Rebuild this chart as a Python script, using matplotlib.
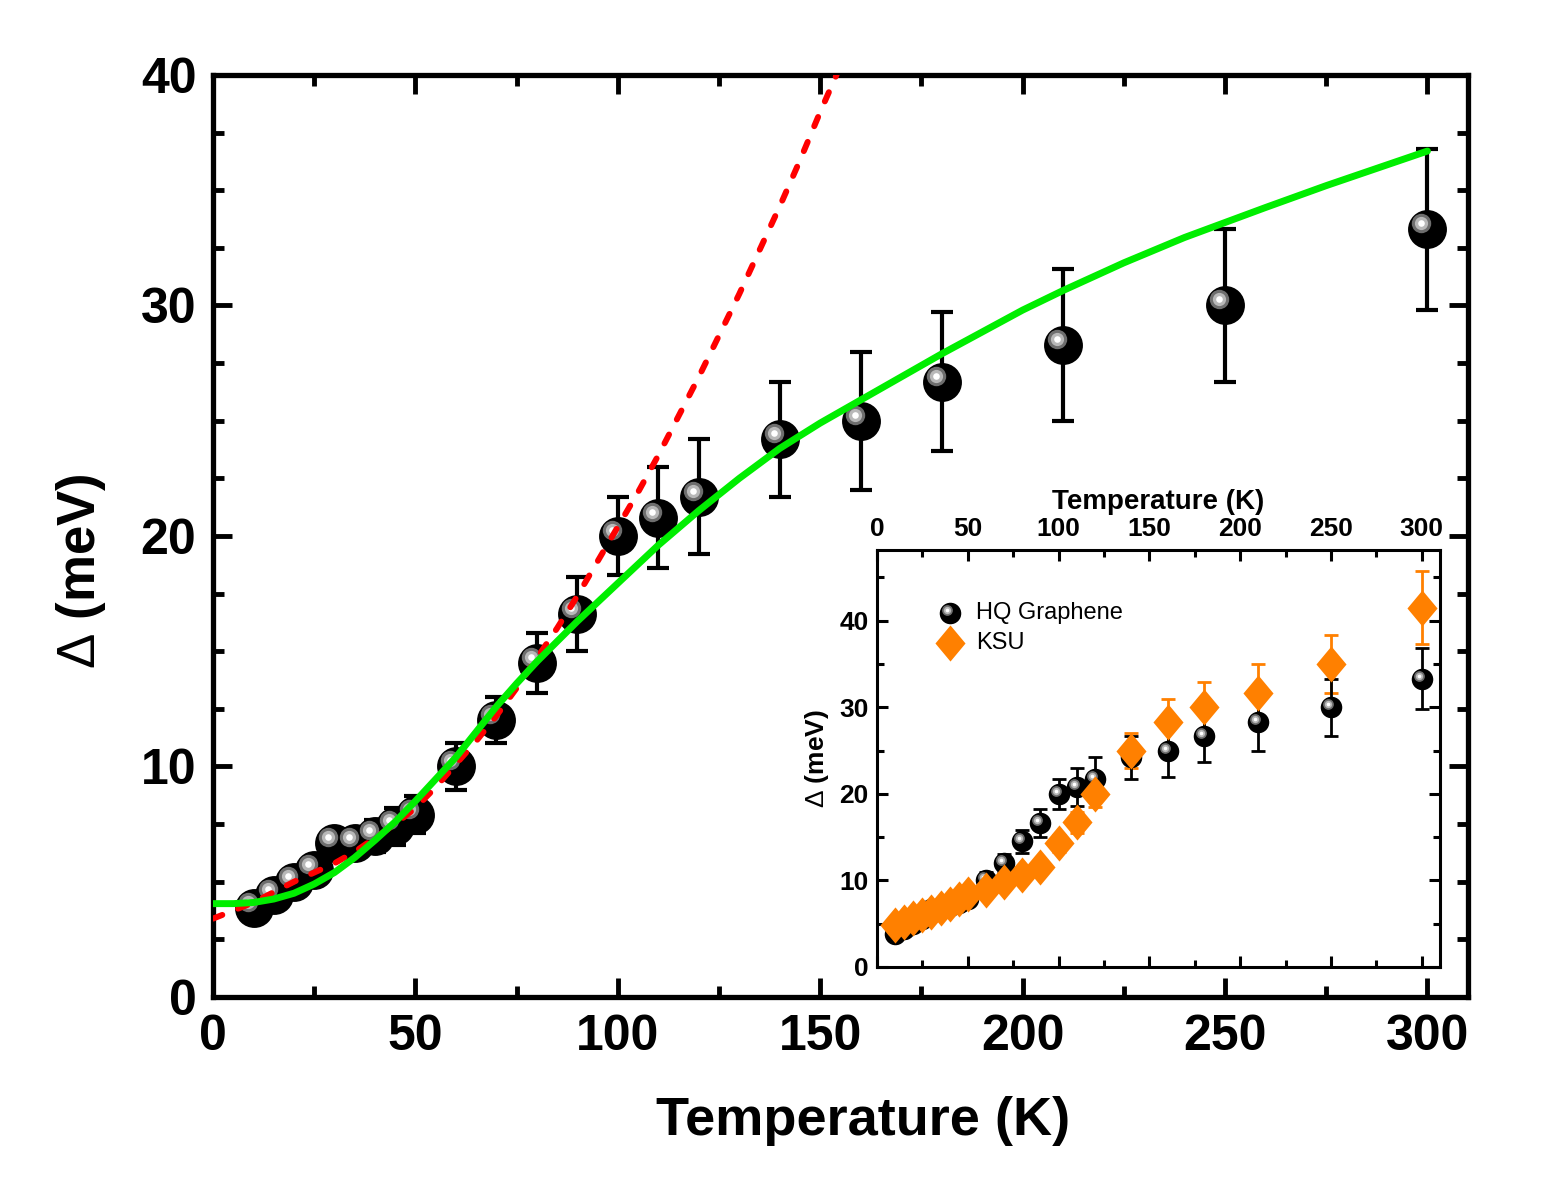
import numpy as np
import matplotlib
matplotlib.use("Agg")
import matplotlib.pyplot as plt
from matplotlib.transforms import offset_copy
from matplotlib.ticker import MultipleLocator

plt.rcParams['font.family'] = ['Liberation Sans', 'DejaVu Sans']
plt.rcParams['mathtext.fontset'] = 'custom'
plt.rcParams['mathtext.rm'] = 'Liberation Sans'

# HQ graphene data (main panel and inset)
T_hq = [10, 15, 20, 25, 30, 35, 40, 45, 50, 60, 70, 80, 90, 100, 110, 120, 140, 160, 180, 210, 250, 300]
D_hq = [3.86, 4.43, 5.0, 5.5, 6.7, 6.7, 7.0, 7.4, 7.9, 10.0, 12.0, 14.5, 16.6, 20.0, 20.8, 21.7,
        24.2, 25.0, 26.7, 28.3, 30.0, 33.3]
E_hq = [0.4, 0.4, 0.4, 0.5, 0.5, 0.5, 0.7, 0.8, 0.8, 1.0, 1.0, 1.3, 1.6, 1.7, 2.2, 2.5,
        2.5, 3.0, 3.0, 3.3, 3.3, 3.5]

# KSU data (inset)
T_ksu = [10, 15, 20, 25, 30, 35, 40, 45, 50, 60, 70, 80, 90, 100, 110, 120, 140, 160, 180, 210, 250, 300]
D_ksu = [4.8, 5.2, 5.6, 6.0, 6.4, 6.8, 7.3, 7.8, 8.4, 8.9, 9.8, 10.6, 11.6, 14.3, 16.7, 20.0,
         25.0, 28.3, 30.0, 31.7, 35.0, 41.5]
E_ksu = [0.4, 0.4, 0.4, 0.4, 0.4, 0.4, 0.5, 0.5, 0.5, 0.6, 0.6, 0.7, 0.8, 1.0, 1.2, 1.5,
         2.0, 2.6, 2.9, 3.3, 3.3, 4.2]

# red dashed curve
T_red = [0, 5, 10, 15, 20, 25, 30, 35, 40, 45, 50, 55, 60, 65, 70, 75, 80, 85, 90, 95, 100,
         105, 110, 115, 120, 125, 130, 135, 140, 145, 150, 155]
D_red = [3.4, 3.75, 4.1, 4.55, 5.0, 5.4, 5.8, 6.3, 6.9, 7.5, 8.2, 9.1, 10.1, 11.1, 12.2, 13.4,
         14.7, 16.0, 17.4, 18.9, 20.4, 21.9, 23.5, 25.2, 26.9, 28.7, 30.5, 32.4, 34.3, 36.3,
         38.4, 40.4]

# green curve
T_grn = [0, 5, 10, 15, 20, 25, 30, 35, 40, 45, 50, 55, 60, 65, 70, 75, 80, 90, 100, 110, 120,
         130, 140, 150, 160, 170, 180, 190, 200, 210, 225, 240, 250, 260, 275, 290, 300]
D_grn = [4.05, 4.05, 4.1, 4.25, 4.5, 4.9, 5.4, 6.05, 6.8, 7.6, 8.5, 9.45, 10.4, 11.5, 12.6,
         13.6, 14.55, 16.3, 17.95, 19.6, 21.1, 22.5, 23.8, 24.9, 25.9, 26.9, 27.9, 28.85,
         29.8, 30.65, 31.85, 32.95, 33.6, 34.25, 35.2, 36.1, 36.7]

fig = plt.figure(figsize=(15.55, 11.92), dpi=100)
ax = fig.add_axes([0.137, 0.1636, 0.807, 0.7735])


def spheres(a, x, y, ms, off, z, trans=None):
    if trans is None:
        trans = a.transData
    a.plot(x, y, 'o', ms=ms, color='black', mec='black', mew=0, transform=trans, zorder=z)
    tr = offset_copy(trans, fig=fig, x=-off, y=off, units='dots')
    a.plot(x, y, 'o', ms=ms * 0.5, color='#6e6e6e', mew=0, transform=tr, zorder=z)
    a.plot(x, y, 'o', ms=ms * 0.34, color='#b8b8b8', mew=0, transform=tr, zorder=z)
    a.plot(x, y, 'o', ms=ms * 0.17, color='white', mew=0, transform=tr, zorder=z)


ax.errorbar(T_hq, D_hq, yerr=E_hq, fmt='none', ecolor='black', elinewidth=3,
            capsize=8, capthick=3, zorder=2)
spheres(ax, T_hq, D_hq, 28, 6, 3)
ax.plot(T_red, D_red, color='#ff0000', lw=4.3, ls=(0, (1.67, 2.85)),
        dash_capstyle='round', zorder=4)
ax.plot(T_grn, D_grn, color='#00ee00', lw=5, zorder=5, solid_capstyle='round')

ax.set_xlim(0, 310)
ax.set_ylim(0, 40)
ax.xaxis.set_major_locator(MultipleLocator(50))
ax.xaxis.set_minor_locator(MultipleLocator(25))
ax.yaxis.set_major_locator(MultipleLocator(10))
ax.yaxis.set_minor_locator(MultipleLocator(2.5))
ax.tick_params(which='both', direction='in', top=True, right=True, width=3.5)
ax.tick_params(which='major', length=14, labelsize=36, pad=12)
ax.tick_params(which='minor', length=8)
for lab in ax.get_xticklabels() + ax.get_yticklabels():
    lab.set_fontweight('bold')
for s in ax.spines.values():
    s.set_linewidth(3.8)
ax.set_xlabel('Temperature (K)', fontsize=39, fontweight='bold')
ax.xaxis.set_label_coords(0.518, -0.107)
ax.set_ylabel(r'$\Delta$ (meV)', fontsize=38, fontweight='bold')
ax.yaxis.set_label_coords(-0.084, 0.462)

# inset
ins = fig.add_axes([0.564, 0.1888, 0.362, 0.350])
ins.errorbar(T_ksu, D_ksu, yerr=E_ksu, fmt='none', ecolor='#ff8000', elinewidth=2,
             capsize=5, capthick=2, zorder=2)
ins.errorbar(T_hq, D_hq, yerr=E_hq, fmt='none', ecolor='black', elinewidth=2,
             capsize=5, capthick=2, zorder=2)
spheres(ins, T_hq, D_hq, 15.5, 3, 3)
diamond = [(0, 1.2), (1, 0), (0, -1.2), (-1, 0), (0, 1.2)]
ins.plot(T_ksu, D_ksu, ls='none', marker=diamond, ms=26, color='#ff8000', mew=0, zorder=4)

# legend, drawn by hand so the sphere marker matches
spheres(ins, [0.130], [0.849], 15.5, 3, 6, trans=ins.transAxes)
ins.plot([0.130], [0.777], ls='none', marker=diamond, ms=26, color='#ff8000', mew=0,
         transform=ins.transAxes, zorder=6)
ins.text(0.176, 0.849, 'HQ Graphene', transform=ins.transAxes, fontsize=17, va='center')
ins.text(0.176, 0.777, 'KSU', transform=ins.transAxes, fontsize=17, va='center')

ins.set_xlim(0, 310)
ins.set_ylim(0, 48.2)
ins.xaxis.set_major_locator(MultipleLocator(50))
ins.xaxis.set_minor_locator(MultipleLocator(25))
ins.yaxis.set_major_locator(MultipleLocator(10))
ins.yaxis.set_minor_locator(MultipleLocator(5))
ins.tick_params(which='both', direction='in', top=True, right=True, bottom=True,
                labeltop=True, labelbottom=False, width=2.2)
ins.tick_params(which='major', length=8, labelsize=19, pad=6)
ins.tick_params(which='minor', length=5)
for lab in ins.get_xticklabels() + ins.get_yticklabels():
    lab.set_fontweight('bold')
for s in ins.spines.values():
    s.set_linewidth(2.2)
ins.xaxis.set_label_position('top')
ins.set_xlabel('Temperature (K)', fontsize=20, fontweight='bold', labelpad=6)
ins.set_ylabel(r'$\Delta$ (meV)', fontsize=19, fontweight='bold', labelpad=6)

fig.savefig('out.png', dpi=100)
